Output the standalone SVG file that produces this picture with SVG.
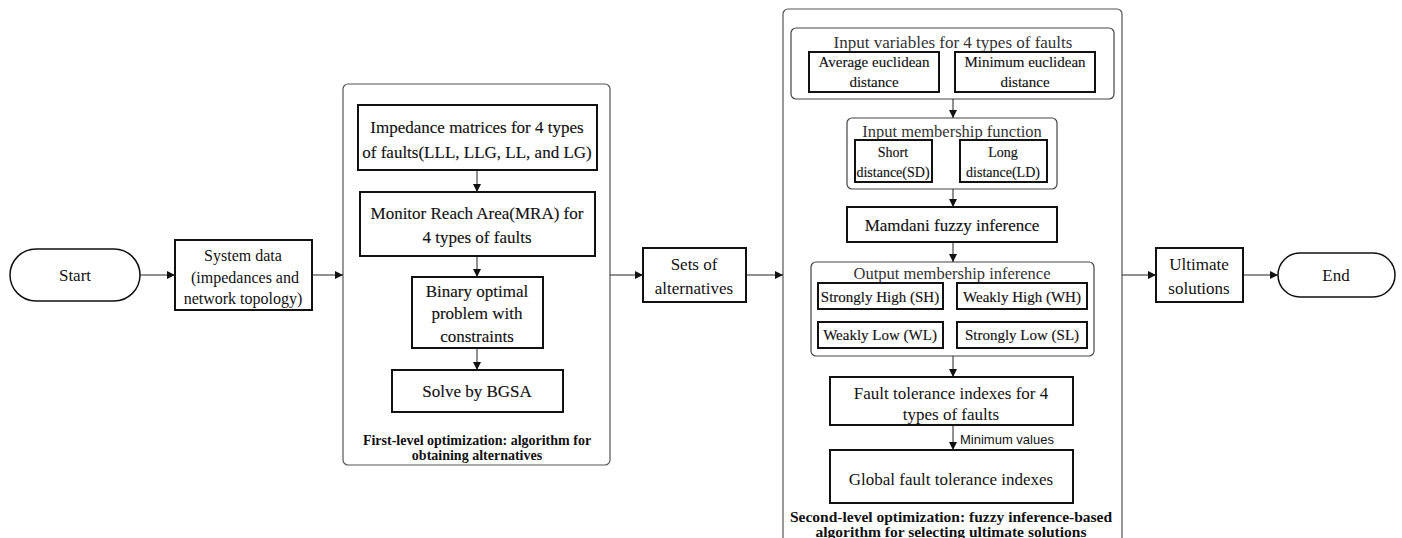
<svg xmlns="http://www.w3.org/2000/svg" width="1402" height="538" viewBox="0 0 1402 538">
<style>
text{font-family:"Liberation Serif","Times New Roman",serif;fill:#111;text-anchor:middle;dominant-baseline:central}
.box{fill:#fff;stroke:#111;stroke-width:2}
.cap{fill:#fff;stroke:#111;stroke-width:1.5}
.cont{fill:#fff;stroke:#555;stroke-width:1.2}
.grp{fill:#fff;stroke:#444;stroke-width:1.2}
.t17{font-size:17px}
.t16{font-size:16px}
.t15{font-size:15px}
.t14{font-size:14px}
.hv{stroke:#111;stroke-width:0.15}
.title{font-size:16.5px;fill:#333}
.capt{font-size:14px;font-weight:bold}
.capt2{font-size:15.5px;font-weight:bold}
.lab{font-family:"Liberation Sans",Arial,sans-serif;font-size:13px;text-anchor:start}
.con{stroke:#222;stroke-width:1;fill:none;marker-end:url(#ah)}
</style>
<defs>
<marker id="ah" viewBox="0 0 10 10" refX="10" refY="5" markerWidth="9" markerHeight="8" markerUnits="userSpaceOnUse" orient="auto">
<path d="M0,0 L10,5 L0,10 z" fill="#111"/>
</marker>
</defs>

<g id="start"><rect class="cap" x="10" y="249" width="130" height="52" rx="26"/><text class="t17" x="75" y="275">Start</text></g>
<g id="system-data"><rect class="box" x="175" y="240" width="137" height="70"/>
<text class="t16" x="243" y="255">System data</text>
<text class="t16" x="245" y="277">(impedances and</text>
<text class="t16" x="243" y="298">network topology)</text></g>

<g id="first-level"><rect class="cont" x="343" y="84" width="267" height="381" rx="5"/>
<text class="capt" x="477" y="440">First-level optimization: algorithm for</text>
<text class="capt" x="477" y="455">obtaining alternatives</text></g>
<g id="impedance"><rect class="box" x="358" y="105" width="239" height="65"/>
<text class="t17 hv" x="477" y="127">Impedance matrices for 4 types</text>
<text class="t17 hv" x="477" y="152">of faults(LLL, LLG, LL, and LG)</text></g>
<g id="mra"><rect class="box" x="360" y="192" width="235" height="64"/>
<text class="t17 hv" x="477" y="213">Monitor Reach Area(MRA) for</text>
<text class="t17 hv" x="477" y="237">4 types of faults</text></g>
<g id="binary"><rect class="box" x="412" y="277" width="131" height="71"/>
<text class="t17 hv" x="477" y="291">Binary optimal</text>
<text class="t17 hv" x="477" y="313">problem with</text>
<text class="t17 hv" x="477" y="336">constraints</text></g>
<g id="bgsa"><rect class="box" x="392" y="370" width="171" height="42"/>
<text class="t17 hv" x="477" y="391">Solve by BGSA</text></g>

<g id="sets"><rect class="box" x="643" y="248" width="103" height="54"/>
<text class="t17" x="694" y="264">Sets of</text>
<text class="t17" x="694" y="288">alternatives</text></g>

<g id="second-level"><rect class="cont" x="783" y="9" width="339" height="545" rx="5"/>
<text class="capt2" x="951" y="516">Second-level optimization: fuzzy inference-based</text>
<text class="capt2" x="951" y="531">algorithm for selecting ultimate solutions</text></g>
<g id="input-vars"><rect class="grp" x="791" y="28" width="323" height="71" rx="5"/>
<text class="title" x="953" y="42" style="font-size:17px">Input variables for 4 types of faults</text></g>
<g id="avg"><rect class="box" x="809" y="52" width="130" height="40"/>
<text class="t15 hv" x="874" y="62">Average euclidean</text>
<text class="t15 hv" x="874" y="82">distance</text></g>
<g id="min"><rect class="box" x="955" y="52" width="140" height="40"/>
<text class="t15 hv" x="1025" y="62">Minimum euclidean</text>
<text class="t15 hv" x="1025" y="82">distance</text></g>
<g id="input-mf"><rect class="grp" x="847" y="118" width="210" height="71" rx="5"/>
<text class="title" x="952" y="131">Input membership function</text></g>
<g id="sd"><rect class="box" x="855" y="140" width="77" height="42"/>
<text class="t14 hv" x="893" y="152">Short</text>
<text class="t14 hv" x="893" y="172">distance(SD)</text></g>
<g id="ld"><rect class="box" x="960" y="140" width="87" height="42"/>
<text class="t14 hv" x="1003" y="152">Long</text>
<text class="t14 hv" x="1003" y="172">distance(LD)</text></g>
<g id="mamdani"><rect class="box" x="847" y="207" width="210" height="35"/>
<text class="t17 hv" x="952" y="225">Mamdani fuzzy inference</text></g>
<g id="output-mf"><rect class="grp" x="811" y="262" width="283" height="94" rx="5"/>
<text class="title" x="952" y="273">Output membership inference</text></g>
<g id="sh"><rect class="box" x="818" y="283" width="125" height="26"/><text class="t15 hv" x="880" y="297">Strongly High (SH)</text></g>
<g id="wh"><rect class="box" x="957" y="283" width="130" height="26"/><text class="t15 hv" x="1022" y="297">Weakly High (WH)</text></g>
<g id="wl"><rect class="box" x="818" y="322" width="125" height="26"/><text class="t15 hv" x="880" y="335">Weakly Low (WL)</text></g>
<g id="sl"><rect class="box" x="957" y="322" width="130" height="26"/><text class="t15 hv" x="1022" y="335">Strongly Low (SL)</text></g>
<g id="fti"><rect class="box" x="830" y="377" width="243" height="48"/>
<text class="t17" x="951" y="393">Fault tolerance indexes for 4</text>
<text class="t17" x="951" y="414">types of faults</text></g>
<g id="global"><rect class="box" x="830" y="450" width="243" height="53"/>
<text class="t17" x="951" y="479">Global fault tolerance indexes</text></g>

<g id="ultimate"><rect class="box" x="1156" y="248" width="87" height="54"/>
<text class="t17" x="1199" y="264">Ultimate</text>
<text class="t17" x="1199" y="288">solutions</text></g>
<g id="end"><rect class="cap" x="1278" y="253" width="117" height="44" rx="22"/><text class="t17" x="1336" y="275">End</text></g>

<g id="connectors">
<line class="con" x1="140" y1="275" x2="175" y2="275"/>
<line class="con" x1="312" y1="275" x2="343" y2="275"/>
<line class="con" x1="477" y1="170" x2="477" y2="192"/>
<line class="con" x1="477" y1="256" x2="477" y2="277"/>
<line class="con" x1="477" y1="348" x2="477" y2="370"/>
<line class="con" x1="610" y1="275" x2="643" y2="275"/>
<line class="con" x1="746" y1="275" x2="783" y2="275"/>
<line class="con" x1="953" y1="99" x2="953" y2="118"/>
<line class="con" x1="953" y1="189" x2="953" y2="207"/>
<line class="con" x1="953" y1="242" x2="953" y2="262"/>
<line class="con" x1="953" y1="356" x2="953" y2="377"/>
<line class="con" x1="953" y1="425" x2="953" y2="450"/>
<text class="lab" x="960" y="439">Minimum values</text>
<line class="con" x1="1122" y1="275" x2="1156" y2="275"/>
<line class="con" x1="1243" y1="275" x2="1278" y2="275"/>
</g>
</svg>
